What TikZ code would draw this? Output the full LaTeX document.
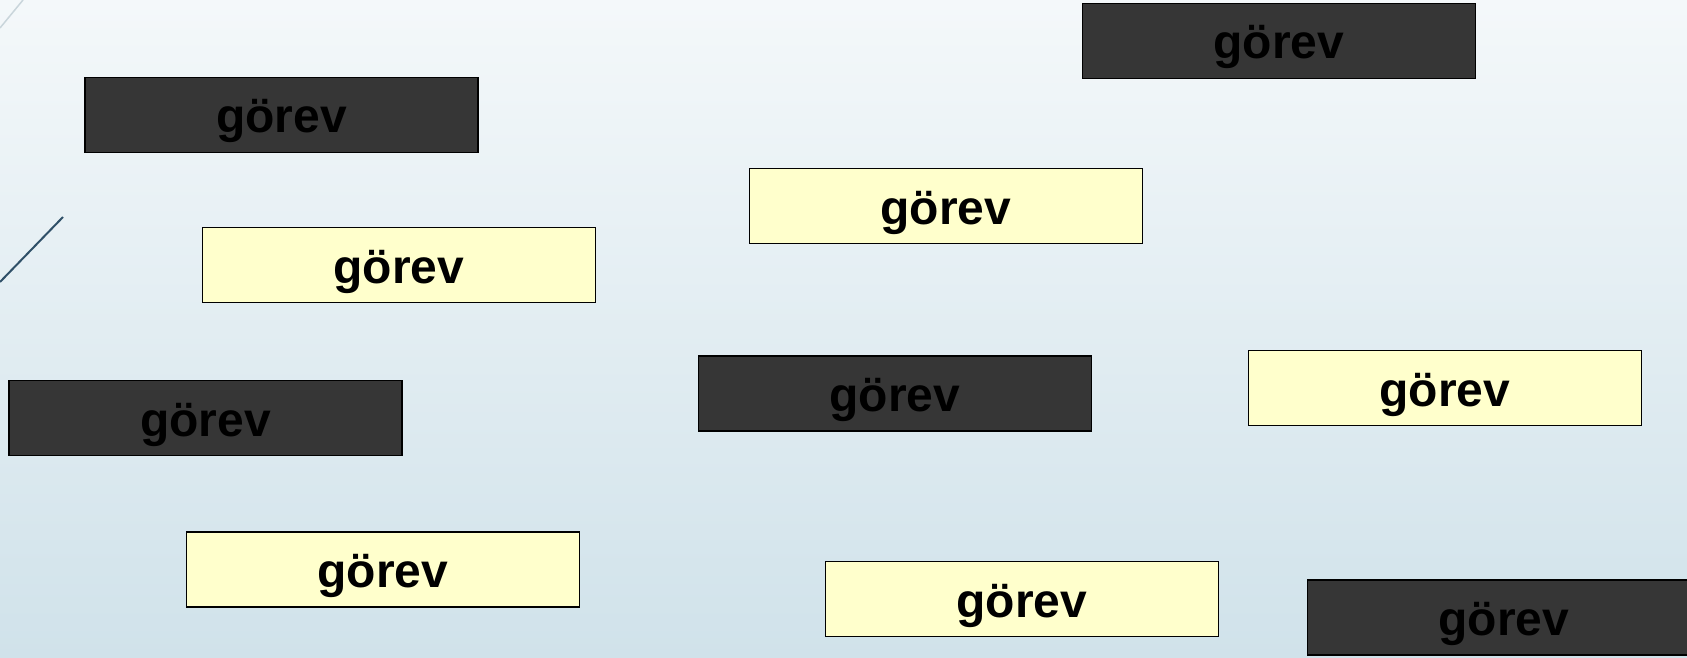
\documentclass[tikz,border=0pt]{standalone}
\usepackage{fontspec}
\setmainfont{Liberation Sans}
\begin{document}
\begin{tikzpicture}[x=1pt,y=-1pt,
  task/.style={draw=black,line width=1.6pt,minimum width=393pt,minimum height=75pt,
    inner sep=0pt,font=\fontsize{48}{57}\selectfont\bfseries,text=black,
    text height=40pt,text depth=4pt},
  darktask/.style={task,fill=taskdark},
  lighttask/.style={task,fill=taskyellow}]
\definecolor{taskdark}{HTML}{363636}
\definecolor{taskyellow}{HTML}{FFFFCC}
\definecolor{bgtop}{HTML}{F4F8FA}
\definecolor{bgbottom}{HTML}{D0E2EA}
\definecolor{linelight}{HTML}{C9D5DB}
\definecolor{linedark}{HTML}{2F5068}
% page background
\useasboundingbox (0,0) rectangle (1687,658);
\clip (0,0) rectangle (1687,658);
\shade[top color=bgtop,bottom color=bgbottom] (0,0) rectangle (1687,658);
% corner strokes
\draw[linelight,line width=1.5pt] (0,28) -- (23,0);
\draw[linedark,line width=2pt] (0,282) -- (63,217);
% task boxes
\node[darktask]  (t1)  at (1279,41)    {görev};
\node[darktask]  (t2)  at (281.5,115)  {görev};
\node[lighttask] (t3)  at (946,206)    {görev};
\node[lighttask] (t4)  at (399,265)    {görev};
\node[darktask]  (t5)  at (205.5,418)  {görev};
\node[darktask]  (t6)  at (895,393.5)  {görev};
\node[lighttask] (t7)  at (1445,388)   {görev};
\node[lighttask] (t8)  at (383,569.5)  {görev};
\node[lighttask] (t9)  at (1022,599)   {görev};
\node[darktask]  (t10) at (1504,617.5) {görev};
\end{tikzpicture}
\end{document}
